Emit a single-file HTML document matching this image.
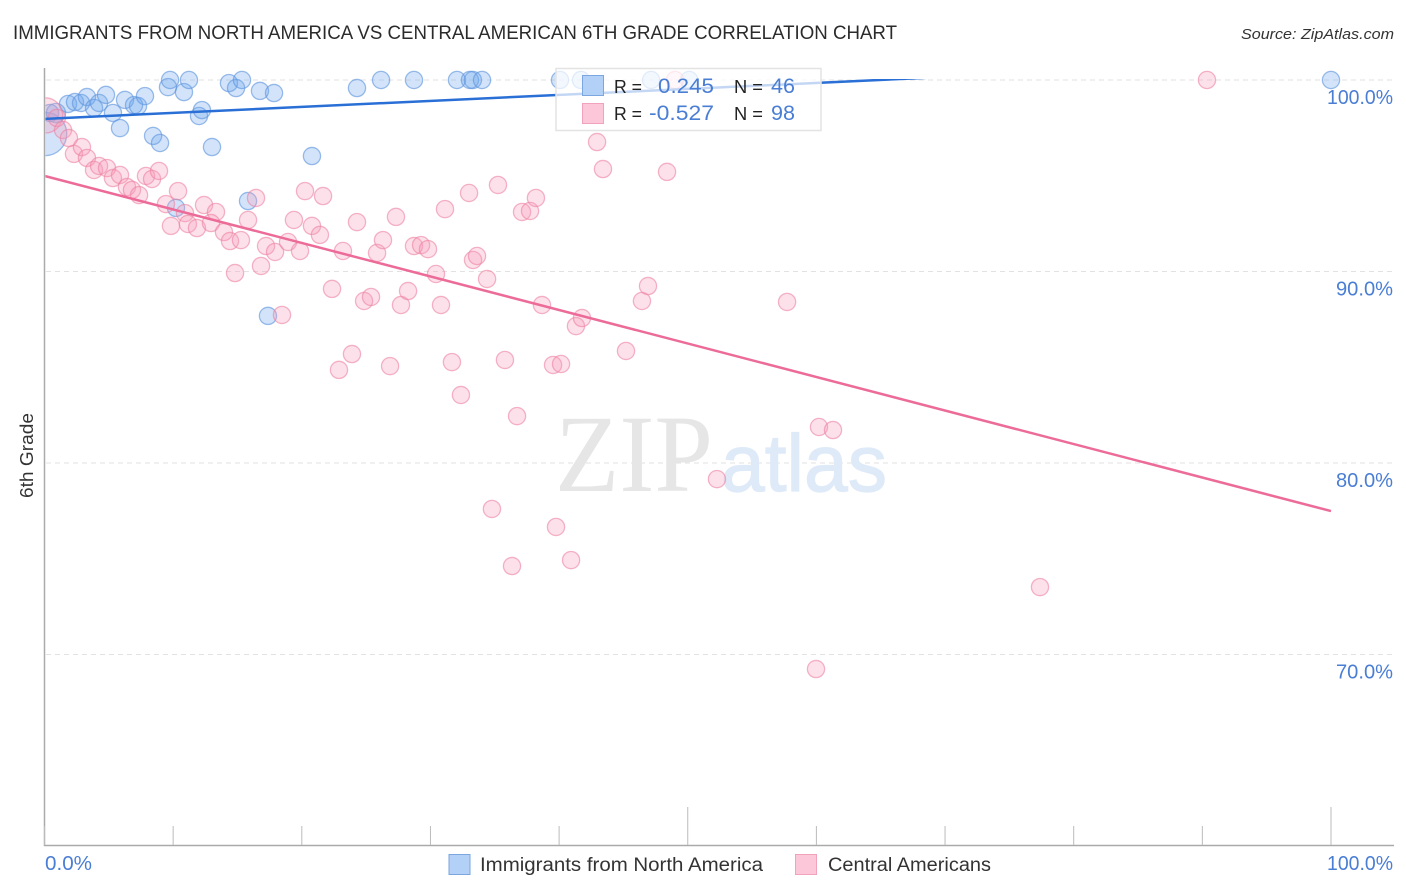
<!DOCTYPE html>
<html lang="en">
<head>
<meta charset="utf-8">
<title>Immigrants from North America vs Central American 6th Grade Correlation Chart</title>
<style>
html,body{margin:0;padding:0;background:#fff;width:1406px;height:892px;overflow:hidden}
svg{display:block;font-family:"Liberation Sans",sans-serif}
</style>
</head>
<body>
<svg id="chart" width="1406" height="892" viewBox="0 0 1406 892" xmlns="http://www.w3.org/2000/svg">
  <defs>
    <clipPath id="plot-clip"><rect x="45.5" y="40" width="1360" height="806"></rect></clipPath>
    <clipPath id="trend-clip"><rect x="45.5" y="79" width="1360" height="767"></rect></clipPath>
  </defs>
  <rect width="1406" height="892" fill="#fff"></rect>
  <text x="13" y="39" font-size="19" fill="#2b2b2b" textLength="884" lengthAdjust="spacingAndGlyphs">IMMIGRANTS FROM NORTH AMERICA VS CENTRAL AMERICAN 6TH GRADE CORRELATION CHART</text>
  <text x="1241" y="39" font-size="15" font-style="italic" fill="#333" textLength="153" lengthAdjust="spacingAndGlyphs">Source: ZipAtlas.com</text>
  <g id="grid"></g>
  <text x="555" y="491" font-family="'Liberation Serif',serif" font-size="110" fill="#e6e6e6" textLength="158" lengthAdjust="spacingAndGlyphs">ZIP</text>
  <text x="721" y="491" font-size="81" font-weight="400" fill="#dfeaf9" stroke="#dfeaf9" stroke-width="1.2" textLength="166" lengthAdjust="spacingAndGlyphs">atlas</text>
  <g id="blue-points" clip-path="url(#plot-clip)"></g>
  <g id="pink-points" clip-path="url(#plot-clip)"></g>
  <g id="trends" clip-path="url(#trend-clip)"></g>
  <g id="axes"></g>
  <text transform="translate(33,498) rotate(-90)" font-size="18" fill="#333" textLength="85" lengthAdjust="spacingAndGlyphs">6th Grade</text>

  <g>
    <rect x="556" y="68.5" width="265" height="62" fill="#fff" fill-opacity="0.72" stroke="#e3e3e3" stroke-width="1.5"></rect>
    <rect x="582.5" y="75.5" width="21" height="20" fill="#b3d1f7" stroke="#7ba6df" stroke-width="1"></rect>
    <rect x="582.5" y="103.5" width="21" height="20" fill="#fcc8d9" stroke="#f0a3bb" stroke-width="1"></rect>
    <text x="614" y="93" font-size="18" fill="#222" textLength="28" lengthAdjust="spacingAndGlyphs">R =</text>
    <text x="658" y="93" font-size="21" fill="#4a7ed4" textLength="56" lengthAdjust="spacingAndGlyphs">0.245</text>
    <text x="734" y="93" font-size="18" fill="#222" textLength="29" lengthAdjust="spacingAndGlyphs">N =</text>
    <text x="771" y="93" font-size="21" fill="#4a7ed4" textLength="24" lengthAdjust="spacingAndGlyphs">46</text>
    <text x="614" y="120" font-size="18" fill="#222" textLength="28" lengthAdjust="spacingAndGlyphs">R =</text>
    <text x="649" y="120" font-size="21" fill="#4a7ed4" textLength="65" lengthAdjust="spacingAndGlyphs">-0.527</text>
    <text x="734" y="120" font-size="18" fill="#222" textLength="29" lengthAdjust="spacingAndGlyphs">N =</text>
    <text x="771" y="120" font-size="21" fill="#4a7ed4" textLength="24" lengthAdjust="spacingAndGlyphs">98</text>
  </g>

  <g>
    <g>
      <rect x="449" y="854.5" width="21" height="20" fill="#b3d1f7" stroke="#7ba6df" stroke-width="1"></rect>
      <text x="480" y="871" font-size="19" fill="#333" textLength="283" lengthAdjust="spacingAndGlyphs">Immigrants from North America</text>
    </g>
    <g>
      <rect x="795.5" y="854.5" width="21" height="20" fill="#fcc8d9" stroke="#f0a3bb" stroke-width="1"></rect>
      <text x="828" y="871" font-size="19" fill="#333" textLength="163" lengthAdjust="spacingAndGlyphs">Central Americans</text>
    </g>
  </g>
</svg>
<script>
const yTickValues = [100, 90, 80, 70];
const yTickLabels = ["100.0%", "90.0%", "80.0%", "70.0%"];
const xTickValues = [0, 10, 20, 30, 40, 50, 60, 70, 80, 90, 100];
const xEndValues = [0, 100];
const xEndLabels = ["0.0%", "100.0%"];

const blueX = [0.05,0.43,0.89,1.83,2.37,2.84,3.30,3.85,4.24,4.78,5.32,6.26,5.87,6.96,7.27,7.81,8.44,8.98,9.60,9.76,10.84,11.23,12.01,12.24,13.02,14.34,14.89,15.35,16.75,17.84,20.79,15.82,10.22,17.37,24.29,26.16,28.72,32.06,33.07,33.30,34.01,40.07,41.70,47.15,50.11,100];
const blueY = [97.18,98.28,98.28,98.75,98.85,98.80,99.11,98.54,98.80,99.22,98.28,98.96,97.49,98.69,98.64,99.16,97.08,96.71,99.63,100,99.37,100,98.12,98.43,96.50,99.84,99.58,100,99.43,99.32,96.03,93.68,93.32,87.68,99.58,100,100,100,100,100,100,100,100,100,100,100];
const blueSize = [22,9,10,9,9,9,9,9,9,9,9,9,9,9,9,9,9,9,9,9,9,9,9,9,9,9,9,9,9,9,9,9,9,9,9,9,9,9,9,9,9,9,9,9,9,9];

const pinkX = [0.05,0.97,1.44,1.90,2.29,2.91,3.30,3.85,4.24,4.86,5.32,5.87,6.41,6.80,7.35,7.89,8.36,8.90,10.38,9.44,9.83,10.92,11.15,11.85,12.40,13.33,12.94,13.95,14.42,15.27,14.81,15.82,16.44,16.83,17.22,17.92,18.93,19.86,19.39,20.25,21.65,20.79,21.41,23.20,18.46,22.35,22.89,23.90,24.29,24.84,25.38,25.85,26.31,26.86,27.32,27.71,28.26,28.72,29.27,29.81,30.43,30.82,31.13,31.67,32.37,33.00,33.31,33.62,34.40,35.25,35.79,36.73,34.78,36.34,37.12,37.74,38.20,38.67,39.53,40.15,39.76,40.93,41.31,41.78,42.95,43.41,45.20,46.44,46.91,48.39,52.27,57.72,60.20,61.29,59.97,77.38,90.36,49.01];
const pinkY = [98.15,98.02,97.39,96.97,96.14,96.50,95.93,95.30,95.51,95.40,94.88,95.04,94.41,94.26,93.99,94.99,94.83,95.25,94.20,93.52,92.38,93.05,92.48,92.27,93.47,93.11,92.53,92.06,91.59,91.64,89.92,92.69,93.84,90.29,91.33,91.02,91.54,91.07,92.69,94.20,93.94,92.38,91.91,91.07,87.73,89.09,84.86,85.69,92.58,88.46,88.67,90.97,91.64,85.06,92.85,88.25,88.98,91.33,91.38,91.17,89.87,88.25,93.26,85.27,83.55,94.10,90.60,90.81,89.61,94.52,85.38,82.45,77.60,74.62,93.11,93.16,93.84,88.25,85.12,85.17,76.66,74.93,87.15,87.57,96.76,95.35,85.85,88.46,89.24,95.20,79.16,88.41,81.88,81.72,69.24,73.52,100,100];
const pinkSize = [18,9,9,9,9,9,9,9,9,9,9,9,9,9,9,9,9,9,9,9,9,9,9,9,9,9,9,9,9,9,9,9,9,9,9,9,9,9,9,9,9,9,9,9,9,9,9,9,9,9,9,9,9,9,9,9,9,9,9,9,9,9,9,9,9,9,9,9,9,9,9,9,9,9,9,9,9,9,9,9,9,9,9,9,9,9,9,9,9,9,9,9,9,9,9,9,9,9];

const trendX = [0, 100];
const blueTrendY = [97.97, 101.10];
const pinkTrendY = [94.99, 77.49];

const NS = "http://www.w3.org/2000/svg";
const xScale = v => 44.5 + v * 12.865;
const yScale = v => 80 + (100 - v) * 19.15;

function make(tag, attrs, parent) {
  const el = document.createElementNS(NS, tag);
  for (const k in attrs) el.setAttribute(k, attrs[k]);
  parent.appendChild(el);
  return el;
}

const grid = document.getElementById("grid");
const axes = document.getElementById("axes");

yTickValues.forEach((v, i) => {
  const line = make("line", {x1: 46, x2: 1393, y1: yScale(v), y2: yScale(v), stroke: "#e2e2e2", "stroke-width": 1, "stroke-dasharray": "5 4"}, grid);
  
  
  const w = yTickLabels[i].length === 6 ? 66 : 57;
  const label = make("text", {x: 1393 - w, y: yScale(v) + 24, "font-size": 20, fill: "#4a7ed4", textLength: w, lengthAdjust: "spacingAndGlyphs"}, axes);
  label.textContent = yTickLabels[i];
  
  
});

const yAxis = make("line", {x1: 44.5, x2: 44.5, y1: 68, y2: 846, stroke: "#aaa", "stroke-width": 1.5}, axes);


const xAxis = make("line", {x1: 44, x2: 1394, y1: 845.5, y2: 845.5, stroke: "#aaa", "stroke-width": 1.5}, axes);



xTickValues.forEach(v => {
  const tall = v === 50 || v === 100;
  const tick = make("line", {x1: xScale(v), x2: xScale(v), y1: tall ? 807 : 826, y2: 845, stroke: "#bbb", "stroke-width": 1}, axes);
  
  
});

xEndValues.forEach((v, i) => {
  const w = xEndLabels[i].length === 6 ? 66 : 47;
  const px = v === 0 ? xScale(v) + 0.5 : 1393 - w;
  const label = make("text", {x: px, y: 870, "font-size": 20, fill: "#4a7ed4", textLength: w, lengthAdjust: "spacingAndGlyphs"}, axes);
  label.textContent = xEndLabels[i];
  
  
});

const bluePoints = document.getElementById("blue-points");
blueX.forEach((v, i) => {
  const c = make("circle", {cx: xScale(v), cy: yScale(blueY[i]), r: blueSize[i] - 0.4, fill: "#6ea6ee", "fill-opacity": 0.3, stroke: "#5d94dd", "stroke-opacity": 0.62, "stroke-width": 1.3}, bluePoints);
  
  
});

const pinkPoints = document.getElementById("pink-points");
pinkX.forEach((v, i) => {
  const c = make("circle", {cx: xScale(v), cy: yScale(pinkY[i]), r: pinkSize[i] - 0.4, fill: "#f99bb9", "fill-opacity": 0.3, stroke: "#ec7fa0", "stroke-opacity": 0.58, "stroke-width": 1.3}, pinkPoints);
  
  
});

const trends = document.getElementById("trends");
const blueTrend = make("line", {x1: xScale(trendX[0]), y1: yScale(blueTrendY[0]), x2: xScale(trendX[1]), y2: yScale(blueTrendY[1]), stroke: "#2a6fd6", "stroke-width": 2.5}, trends);


const pinkTrend = make("line", {x1: xScale(trendX[0]), y1: yScale(pinkTrendY[0]), x2: xScale(trendX[1]), y2: yScale(pinkTrendY[1]), stroke: "#ec6b98", "stroke-width": 2.5}, trends);


</script>
</body>
</html>
